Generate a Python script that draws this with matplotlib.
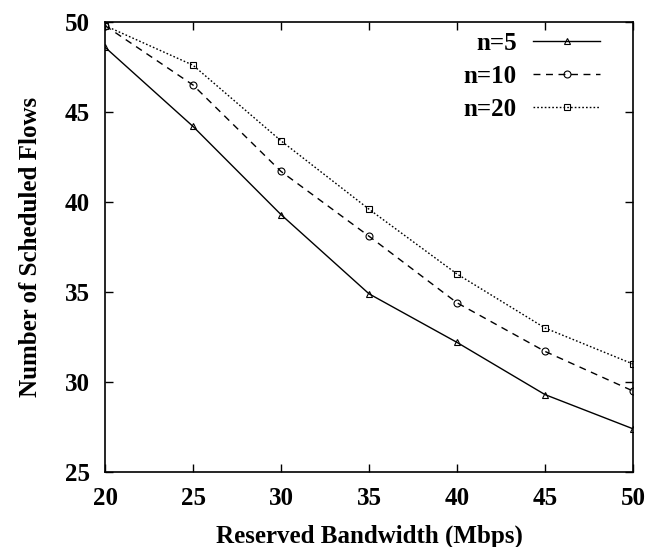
import matplotlib.pyplot as plt

# reserved bandwidth (Mbps)
bandwidth = [20, 25, 30, 35, 40, 45, 50]

# number of scheduled flows
flows_n5 = [48.6, 44.2, 39.3, 34.9, 32.2, 29.3, 27.4]
flows_n10 = [49.8, 46.5, 41.7, 38.1, 34.4, 31.7, 29.5]
flows_n20 = [49.8, 47.6, 43.4, 39.6, 36.0, 33.0, 31.0]

plt.rcParams['font.family'] = ['Liberation Serif', 'DejaVu Serif']
plt.rcParams['font.weight'] = 'bold'

fig = plt.figure(figsize=(6.59, 5.47), dpi=100)
ax = fig.add_axes([105/659, 1 - 472/547, (633-105)/659, (472-22)/547])

ax.plot(bandwidth, flows_n5, color="black", lw=1, linestyle="-", marker="^",
	markersize=5, markerfacecolor="none", markeredgewidth=0.8, label="n=5")
ax.plot(bandwidth, flows_n10, color="black", lw=1, linestyle=(0, (5, 4)), marker="o",
	markersize=5, markerfacecolor="none", markeredgewidth=0.8, label="n=10")
ax.plot(bandwidth, flows_n20, color="black", lw=1, linestyle=(0, (1.2, 1.5)), marker="s",
	markersize=5, markerfacecolor="none", markeredgewidth=0.8, label="n=20")

ax.set_xlim(20, 50)
ax.set_ylim(25, 50)
ax.set_xticks(bandwidth)
ax.set_yticks([25, 30, 35, 40, 45, 50])
ax.tick_params(direction="in", top=True, right=True, length=6, width=1,
	labelsize=18, pad=11)
for lbl in ax.get_xticklabels() + ax.get_yticklabels():
	lbl.set_fontweight("bold")
for s in ax.spines.values():
	s.set_linewidth(1.2)

ax.set_xlabel("Reserved Bandwidth (Mbps)", fontsize=18, fontweight="bold", labelpad=10)
ax.set_ylabel("Number of Scheduled Flows", fontsize=18, fontweight="bold", labelpad=16)

leg = ax.legend(loc="upper right", bbox_to_anchor=(0.957, 1.0), frameon=False,
	markerfirst=False, fontsize=18, handlelength=2.7, handletextpad=0.65,
	labelspacing=0.4, borderaxespad=0.0)
for t in leg.get_texts():
	t.set_fontweight("bold")

fig.savefig("out.png", dpi=100)
